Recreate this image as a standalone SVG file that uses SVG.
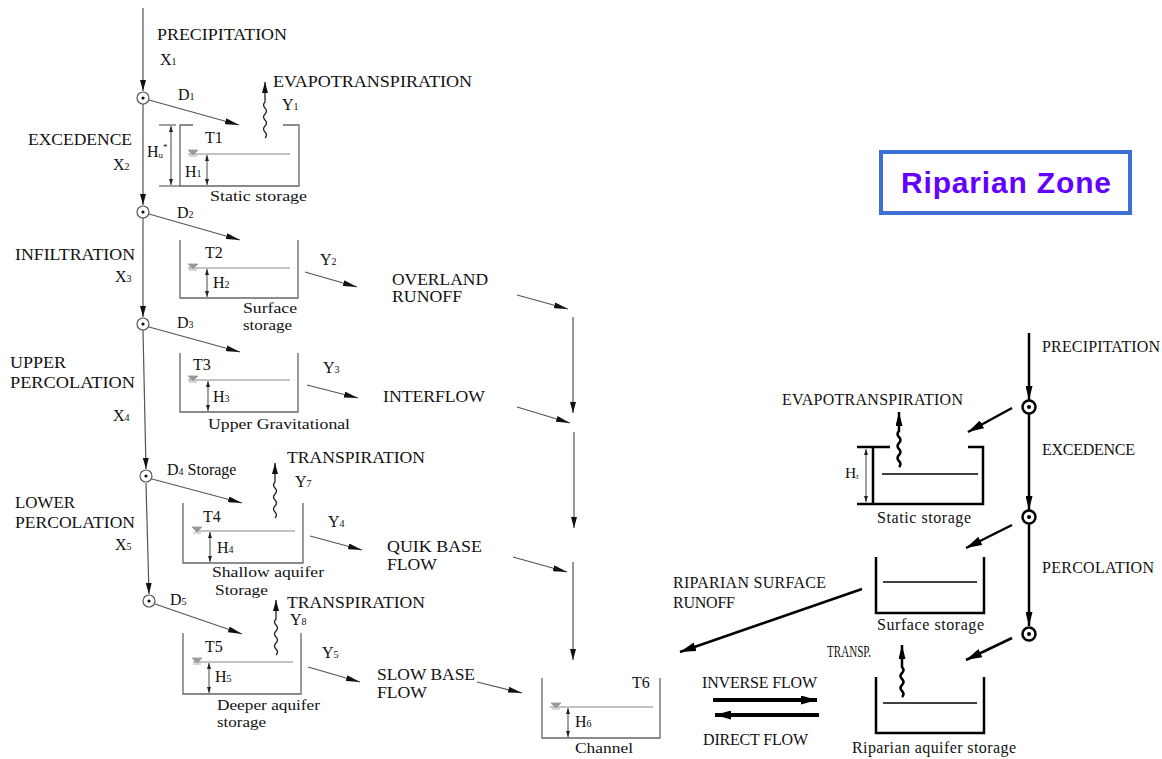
<svg xmlns="http://www.w3.org/2000/svg" width="1162" height="759" viewBox="0 0 1162 759">
<style>
.t{font-family:"Liberation Serif",serif;font-size:16px;fill:#111}
.s{font-family:"Liberation Serif",serif;font-size:15.5px;fill:#111}
.r{font-family:"Liberation Serif",serif;font-size:16px;fill:#111}
.ln{stroke:#555;stroke-width:1.2;fill:none}
.bx{stroke:#666;stroke-width:1.3;fill:none}
.wl{stroke:#888;stroke-width:1.2;fill:none}
.dm{stroke:#444;stroke-width:1;fill:none}
.wv{stroke:#222;stroke-width:1.3;fill:none}
.bk{stroke:#000;stroke-width:2.5;fill:none}
.bw{stroke:#000;stroke-width:1.6;fill:none}
.cl{stroke:#555;stroke-width:1.2;fill:#fff}
.cr{stroke:#000;stroke-width:2.5;fill:#fff}
</style>
<defs>
<marker id="ah" markerUnits="userSpaceOnUse" markerWidth="14" markerHeight="6" refX="14" refY="3" orient="auto"><path d="M0,0 L14,3 L0,6 Z" fill="#111"/></marker>
<marker id="av" markerUnits="userSpaceOnUse" markerWidth="11" markerHeight="6" refX="11" refY="3" orient="auto"><path d="M0,0 L11,3 L0,6 Z" fill="#111"/></marker>
<marker id="sa" markerUnits="userSpaceOnUse" markerWidth="6" markerHeight="4" refX="6" refY="2" orient="auto-start-reverse"><path d="M0,0 L6,2 L0,4 Z" fill="#222"/></marker>
<marker id="bh" markerUnits="userSpaceOnUse" markerWidth="16" markerHeight="9" refX="16" refY="4.5" orient="auto"><path d="M0,0 L16,4.5 L0,9 Z" fill="#000"/></marker>
<marker id="wh" markerUnits="userSpaceOnUse" markerWidth="14" markerHeight="7" refX="14" refY="3.5" orient="auto"><path d="M0,0 L14,3.5 L0,7 Z" fill="#000"/></marker>
<path id="ws" d="M-5,-4 L5,-4 L0,1 Z M-4,2 L4,2" fill="#999" stroke="#999" stroke-width="0.8"/>
</defs>

<!-- connectors -->
<g id="connectors">
  <line class="ln" x1="143" y1="8" x2="143" y2="91" marker-end="url(#av)"/>
  <line class="ln" x1="143" y1="104" x2="143" y2="205" marker-end="url(#av)"/>
  <line class="ln" x1="143" y1="218" x2="143" y2="317" marker-end="url(#av)"/>
  <line class="ln" x1="143" y1="330" x2="146" y2="469" marker-end="url(#av)"/>
  <line class="ln" x1="146" y1="483" x2="149" y2="594" marker-end="url(#av)"/>
  <line class="ln" x1="149" y1="100" x2="239" y2="125" marker-end="url(#ah)"/>
  <line class="ln" x1="149" y1="214" x2="240" y2="240" marker-end="url(#ah)"/>
  <line class="ln" x1="149" y1="327" x2="240" y2="352" marker-end="url(#ah)"/>
  <line class="ln" x1="152" y1="479" x2="242" y2="503" marker-end="url(#ah)"/>
  <line class="ln" x1="155" y1="604" x2="242" y2="634" marker-end="url(#ah)"/>
  <line class="ln" x1="305" y1="272" x2="357" y2="287" marker-end="url(#ah)"/>
  <line class="ln" x1="307" y1="385" x2="358" y2="398" marker-end="url(#ah)"/>
  <line class="ln" x1="310" y1="536" x2="362" y2="550" marker-end="url(#ah)"/>
  <line class="ln" x1="308" y1="667" x2="360" y2="682" marker-end="url(#ah)"/>
  <line class="ln" x1="517" y1="295" x2="568" y2="309" marker-end="url(#ah)"/>
  <line class="ln" x1="517" y1="407" x2="570" y2="423" marker-end="url(#ah)"/>
  <line class="ln" x1="513" y1="557" x2="567" y2="572" marker-end="url(#ah)"/>
  <line class="ln" x1="477" y1="682" x2="522" y2="693" marker-end="url(#ah)"/>
  <line class="ln" x1="573" y1="317" x2="573" y2="413" marker-end="url(#av)"/>
  <line class="ln" x1="574" y1="432" x2="574" y2="528" marker-end="url(#av)"/>
  <line class="ln" x1="573" y1="562" x2="573" y2="660" marker-end="url(#av)"/>
  <path class="wv" d="M265,138 q3,-3 0,-6 q-3,-3 0,-6 q3,-3 0,-6 q-3,-3 0,-6 q3,-3 0,-6 q-3,-3 0,-6 L265,82" marker-end="url(#av)"/>
  <path class="wv" d="M275,518 q3,-3 0,-6 q-3,-3 0,-6 q3,-3 0,-6 q-3,-3 0,-6 q3,-3 0,-6 q-3,-3 0,-6 L275,463" marker-end="url(#av)"/>
  <path class="wv" d="M276,655 q3,-3 0,-6 q-3,-3 0,-6 q3,-3 0,-6 q-3,-3 0,-6 q3,-3 0,-6 q-3,-3 0,-6 L276,600" marker-end="url(#av)"/>
  <line class="bk" x1="1029" y1="333" x2="1029" y2="400" marker-end="url(#wh)"/>
  <line class="bk" x1="1029" y1="414" x2="1029" y2="510" marker-end="url(#wh)"/>
  <line class="bk" x1="1029" y1="524" x2="1029" y2="626" marker-end="url(#wh)"/>
  <line class="bk" x1="1012" y1="408" x2="968" y2="432" marker-end="url(#bh)"/>
  <line class="bk" x1="1012" y1="525" x2="966" y2="548" marker-end="url(#bh)"/>
  <line class="bk" x1="1012" y1="638" x2="966" y2="660" marker-end="url(#bh)"/>
  <line class="bk" x1="862" y1="589" x2="680" y2="652" marker-end="url(#bh)"/>
  <line stroke="#000" stroke-width="4" x1="713" y1="700" x2="817" y2="700" marker-end="url(#bh)"/>
  <line stroke="#000" stroke-width="4" x1="819" y1="715" x2="715" y2="715" marker-end="url(#bh)"/>
  <path class="bk" d="M899,467 q3,-3 0,-6 q-3,-3 0,-6 q3,-3 0,-6 q-3,-3 0,-6 q3,-3 0,-6 q-3,-3 0,-6 L899,412" marker-end="url(#wh)"/>
  <path class="bk" d="M902,697 q3,-3 0,-6 q-3,-3 0,-6 q3,-3 0,-6 q-3,-3 0,-6 q3,-3 0,-6 L902,645" marker-end="url(#wh)"/>
</g>

<g id="j1"><circle class="cl" cx="143" cy="98" r="6"/><circle cx="143" cy="98" r="1.6" fill="#111"/></g>
<g id="j2"><circle class="cl" cx="143" cy="212" r="6"/><circle cx="143" cy="212" r="1.6" fill="#111"/></g>
<g id="j3"><circle class="cl" cx="143" cy="324" r="6"/><circle cx="143" cy="324" r="1.6" fill="#111"/></g>
<g id="j4"><circle class="cl" cx="146" cy="476" r="6"/><circle cx="146" cy="476" r="1.6" fill="#111"/></g>
<g id="j5"><circle class="cl" cx="149" cy="601" r="6"/><circle cx="149" cy="601" r="1.6" fill="#111"/></g>

<g id="labels-left">
  <text class="t" x="157" y="40" textLength="130" lengthAdjust="spacingAndGlyphs">PRECIPITATION</text>
  <text class="t" x="160" y="65">X<tspan font-size="10">1</tspan></text>
  <text class="t" x="178" y="100">D<tspan font-size="10">1</tspan></text>
  <text class="t" x="28" y="145" textLength="104" lengthAdjust="spacingAndGlyphs">EXCEDENCE</text>
  <text class="t" x="113" y="170">X<tspan font-size="10">2</tspan></text>
  <text class="t" x="177" y="218">D<tspan font-size="10">2</tspan></text>
  <text class="t" x="15" y="260" textLength="120" lengthAdjust="spacingAndGlyphs">INFILTRATION</text>
  <text class="t" x="115" y="282">X<tspan font-size="10">3</tspan></text>
  <text class="t" x="177" y="328">D<tspan font-size="10">3</tspan></text>
  <text class="t" x="10" y="368" textLength="56" lengthAdjust="spacingAndGlyphs">UPPER</text>
  <text class="t" x="10" y="388" textLength="125" lengthAdjust="spacingAndGlyphs">PERCOLATION</text>
  <text class="t" x="113" y="421">X<tspan font-size="10">4</tspan></text>
  <text class="t" x="167" y="475">D<tspan font-size="10">4</tspan> Storage</text>
  <text class="t" x="15" y="508" textLength="60" lengthAdjust="spacingAndGlyphs">LOWER</text>
  <text class="t" x="15" y="528" textLength="120" lengthAdjust="spacingAndGlyphs">PERCOLATION</text>
  <text class="t" x="115" y="550">X<tspan font-size="10">5</tspan></text>
  <text class="t" x="170" y="605">D<tspan font-size="10">5</tspan></text>
  <text class="t" x="273" y="87" textLength="199" lengthAdjust="spacingAndGlyphs">EVAPOTRANSPIRATION</text>
  <text class="t" x="282" y="110">Y<tspan font-size="10">1</tspan></text>
  <text class="t" x="287" y="463" textLength="138" lengthAdjust="spacingAndGlyphs">TRANSPIRATION</text>
  <text class="t" x="295" y="487">Y<tspan font-size="10">7</tspan></text>
  <text class="t" x="287" y="608" textLength="138" lengthAdjust="spacingAndGlyphs">TRANSPIRATION</text>
  <text class="t" x="290" y="625">Y<tspan font-size="10">8</tspan></text>
  <text class="t" x="320" y="265">Y<tspan font-size="10">2</tspan></text>
  <text class="t" x="323" y="373">Y<tspan font-size="10">3</tspan></text>
  <text class="t" x="328" y="527">Y<tspan font-size="10">4</tspan></text>
  <text class="t" x="322" y="658">Y<tspan font-size="10">5</tspan></text>
  <text class="t" x="392" y="285" textLength="96" lengthAdjust="spacingAndGlyphs">OVERLAND</text>
  <text class="t" x="392" y="302" textLength="70" lengthAdjust="spacingAndGlyphs">RUNOFF</text>
  <text class="t" x="383" y="402" textLength="102" lengthAdjust="spacingAndGlyphs">INTERFLOW</text>
  <text class="t" x="387" y="552" textLength="95" lengthAdjust="spacingAndGlyphs">QUIK BASE</text>
  <text class="t" x="387" y="570" textLength="50" lengthAdjust="spacingAndGlyphs">FLOW</text>
  <text class="t" x="377" y="680" textLength="98" lengthAdjust="spacingAndGlyphs">SLOW BASE</text>
  <text class="t" x="377" y="698" textLength="50" lengthAdjust="spacingAndGlyphs">FLOW</text>
</g>

<g id="T1">
  <path class="bx" d="M193,125 L180,125 L180,186 L299,186 L299,125 L283,125"/>
  <line class="wl" x1="188" y1="154" x2="290" y2="154"/>
  <use href="#ws" x="193" y="154"/>
  <line class="dm" x1="207" y1="155" x2="207" y2="185" marker-start="url(#sa)" marker-end="url(#sa)"/>
  <line class="dm" x1="159" y1="125" x2="176" y2="125"/>
  <line class="dm" x1="159" y1="186" x2="180" y2="186"/>
  <line class="dm" x1="171" y1="126" x2="171" y2="185" marker-start="url(#sa)" marker-end="url(#sa)"/>
  <text class="t" x="147" y="157">H<tspan font-size="9" dy="1">u</tspan><tspan font-size="9" dy="-8">*</tspan></text>
  <text class="t" x="205" y="143">T1</text>
  <text class="t" x="185" y="177">H<tspan font-size="10">1</tspan></text>
  <text class="s" x="210" y="201" textLength="97" lengthAdjust="spacingAndGlyphs">Static storage</text>
</g>
<g id="T2">
  <path class="bx" d="M180,240 L180,298 L298,298 L298,240"/>
  <line class="wl" x1="188" y1="268" x2="290" y2="268"/>
  <use href="#ws" x="193" y="268"/>
  <line class="dm" x1="207" y1="269" x2="207" y2="297" marker-start="url(#sa)" marker-end="url(#sa)"/>
  <text class="t" x="205" y="258">T2</text>
  <text class="t" x="213" y="288">H<tspan font-size="10">2</tspan></text>
  <text class="s" x="243" y="313" textLength="54" lengthAdjust="spacingAndGlyphs">Surface</text>
  <text class="s" x="243" y="330" textLength="49" lengthAdjust="spacingAndGlyphs">storage</text>
</g>
<g id="T3">
  <path class="bx" d="M180,353 L180,412 L298,412 L298,353"/>
  <line class="wl" x1="188" y1="380" x2="290" y2="380"/>
  <use href="#ws" x="193" y="380"/>
  <line class="dm" x1="208" y1="381" x2="208" y2="411" marker-start="url(#sa)" marker-end="url(#sa)"/>
  <text class="t" x="193" y="370">T3</text>
  <text class="t" x="213" y="402">H<tspan font-size="10">3</tspan></text>
  <text class="s" x="208" y="429" textLength="142" lengthAdjust="spacingAndGlyphs">Upper Gravitational</text>
</g>
<g id="T4">
  <path class="bx" d="M183,503 L183,563 L303,563 L303,503"/>
  <line class="wl" x1="195" y1="531" x2="295" y2="531"/>
  <use href="#ws" x="197" y="531"/>
  <line class="dm" x1="210" y1="532" x2="210" y2="562" marker-start="url(#sa)" marker-end="url(#sa)"/>
  <text class="t" x="203" y="522">T4</text>
  <text class="t" x="217" y="553">H<tspan font-size="10">4</tspan></text>
  <text class="s" x="212" y="577" textLength="112" lengthAdjust="spacingAndGlyphs">Shallow aquifer</text>
  <text class="s" x="215" y="595" textLength="53" lengthAdjust="spacingAndGlyphs">Storage</text>
</g>
<g id="T5">
  <path class="bx" d="M183,633 L183,694 L301,694 L301,633"/>
  <line class="wl" x1="193" y1="662" x2="293" y2="662"/>
  <use href="#ws" x="197" y="662"/>
  <line class="dm" x1="209" y1="663" x2="209" y2="693" marker-start="url(#sa)" marker-end="url(#sa)"/>
  <text class="t" x="205" y="652">T5</text>
  <text class="t" x="215" y="682">H<tspan font-size="10">5</tspan></text>
  <text class="s" x="217" y="710" textLength="103" lengthAdjust="spacingAndGlyphs">Deeper aquifer</text>
  <text class="s" x="217" y="727" textLength="49" lengthAdjust="spacingAndGlyphs">storage</text>
</g>
<g id="T6">
  <path class="bx" d="M542,678 L542,738 L660,738 L660,678"/>
  <line class="wl" x1="550" y1="707" x2="653" y2="707"/>
  <use href="#ws" x="556" y="707"/>
  <line class="dm" x1="568" y1="708" x2="568" y2="737" marker-start="url(#sa)" marker-end="url(#sa)"/>
  <text class="t" x="632" y="688">T6</text>
  <text class="t" x="575" y="727">H<tspan font-size="10">6</tspan></text>
  <text class="s" x="575" y="753" textLength="58" lengthAdjust="spacingAndGlyphs">Channel</text>
</g>

<g id="riparian-title">
  <rect x="881" y="152" width="249" height="61" fill="#fff" stroke="#3b6fd4" stroke-width="4"/>
  <text x="1006" y="193" text-anchor="middle" font-family="Liberation Sans, Arial, sans-serif" font-weight="bold" font-size="30" fill="#6400ff" textLength="210">Riparian Zone</text>
</g>
<g id="rj1"><circle class="cr" cx="1029" cy="407" r="6.5"/><circle cx="1029" cy="407" r="2" fill="#000"/></g>
<g id="rj2"><circle class="cr" cx="1029" cy="517" r="6.5"/><circle cx="1029" cy="517" r="2" fill="#000"/></g>
<g id="rj3"><circle class="cr" cx="1029" cy="634" r="6.5"/><circle cx="1029" cy="634" r="2" fill="#000"/></g>

<g id="r-static">
  <path class="bk" d="M857,447 L890,447 M873,447 L873,504 L983,504 L983,447 L968,447 M857,504 L873,504"/>
  <line class="bw" x1="882" y1="474" x2="978" y2="474"/>
  <line class="dm" x1="866" y1="449" x2="866" y2="502" marker-start="url(#sa)" marker-end="url(#sa)"/>
  <text class="s" x="845" y="478" font-size="12">H<tspan font-size="8" dy="1">r</tspan></text>
  <text class="r" x="877" y="523" textLength="94">Static storage</text>
</g>
<g id="r-surface">
  <path class="bk" d="M876,557 L876,613 L984,613 L984,557"/>
  <line class="bw" x1="883" y1="582" x2="977" y2="582"/>
  <text class="r" x="877" y="630" textLength="107">Surface storage</text>
</g>
<g id="r-aquifer">
  <path class="bk" d="M876,677 L876,733 L984,733 L984,677"/>
  <line class="bw" x1="883" y1="703" x2="977" y2="703"/>
  <text class="r" x="852" y="753" textLength="164">Riparian aquifer storage</text>
</g>
<g id="labels-right">
  <text class="r" x="1042" y="352" textLength="118">PRECIPITATION</text>
  <text class="r" x="1042" y="455" textLength="93">EXCEDENCE</text>
  <text class="r" x="1042" y="573" textLength="112">PERCOLATION</text>
  <text class="r" x="782" y="405" textLength="181">EVAPOTRANSPIRATION</text>
  <text class="r" x="673" y="588" textLength="153">RIPARIAN SURFACE</text>
  <text class="r" x="673" y="608" textLength="62">RUNOFF</text>
  <text class="r" x="827" y="657" textLength="44" lengthAdjust="spacingAndGlyphs">TRANSP.</text>
  <text class="r" x="702" y="688" textLength="115">INVERSE FLOW</text>
  <text class="r" x="703" y="745" textLength="105">DIRECT FLOW</text>
</g>
</svg>
